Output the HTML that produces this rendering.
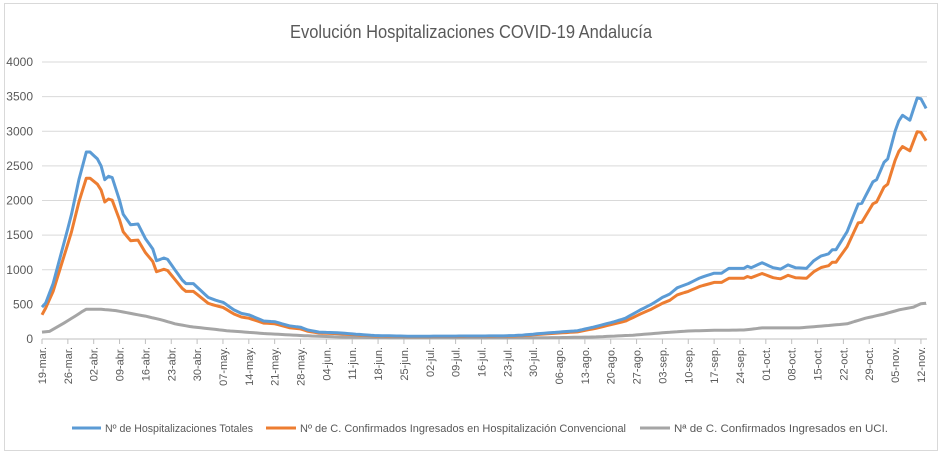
<!DOCTYPE html>
<html><head><meta charset="utf-8"><style>
body{margin:0;background:#fff;width:946px;height:455px;overflow:hidden}
svg text{font-family:"Liberation Sans",sans-serif;fill:#595959}
</style></head><body>
<svg id="s" width="946" height="455" xmlns="http://www.w3.org/2000/svg">
<rect x="0" y="0" width="946" height="455" fill="#fff"/>
<rect x="4.5" y="3.5" width="933" height="447" fill="none" stroke="#d9d9d9"/>
<text x="290" y="38" font-size="18" textLength="362" lengthAdjust="spacingAndGlyphs">Evolución Hospitalizaciones COVID-19 Andalucía</text>
<g id="grid"></g><g id="lines"></g>
<g font-size="11">
<line x1="72" y1="428" x2="101" y2="428" stroke="#5b9bd5" stroke-width="3"/>
<text x="105" y="432" textLength="148" lengthAdjust="spacingAndGlyphs">Nº de Hospitalizaciones Totales</text>
<line x1="266" y1="428" x2="296" y2="428" stroke="#ed7d31" stroke-width="3"/>
<text x="300" y="432" textLength="326" lengthAdjust="spacingAndGlyphs">Nº de C. Confirmados Ingresados en Hospitalización Convencional</text>
<line x1="640" y1="428" x2="670" y2="428" stroke="#a5a5a5" stroke-width="3"/>
<text x="674" y="432" textLength="214" lengthAdjust="spacingAndGlyphs">Nª de C. Confirmados Ingresados en UCI.</text>
</g>
</svg>
<script>
const X0=42,DX=3.693,Y0=339,YS=277/4000;
const fx=d=>X0+d*DX, fy=v=>Y0-v*YS;
let g='';
for(let v=0;v<=4000;v+=500){const y=fy(v);
 if(v>0)g+=`<line x1="42" y1="${y}" x2="927" y2="${y}" stroke="#d9d9d9"/>`;
 g+=`<text x="33" y="${y+4}" font-size="12" text-anchor="end">${v}</text>`;}
g+=`<line x1="42" y1="339" x2="927" y2="339" stroke="#bfbfbf"/>`;
const mon=[['mar',31],['abr',30],['may',31],['jun',30],['jul',31],['ago',31],['sep',30],['oct',31],['nov',30]];
let m=0,d=19;
for(let w=0;w<=34;w++){
 const x=fx(w*7);
 g+=`<line x1="${x}" y1="339" x2="${x}" y2="344" stroke="#bfbfbf"/>`;
 const lab=(d<10?'0':'')+d+'-'+mon[m][0]+'.';
 g+=`<text transform="translate(${x+4},347) rotate(-90)" font-size="11" text-anchor="end">${lab}</text>`;
 d+=7; if(d>mon[m][1]){d-=mon[m][1];m++;}
}
document.getElementById('grid').innerHTML=g;
function interp(k){const out=[];for(let i=0;i<k.length-1;i++){const [d0,v0]=k[i],[d1,v1]=k[i+1];for(let t=d0;t<d1;t++)out.push([t,v0+(v1-v0)*(t-d0)/(d1-d0)]);}out.push(k[k.length-1]);return out;}
const left=[[0,460],[1,520],[3,800],[5,1200],[8,1800],[10,2300],[12,2700],[13,2700],[15,2600],[16,2500],[17,2300],[18,2350],[19,2330],[21,2000],[22,1800],[24,1650],[26,1660],[28,1450],[30,1300],[31,1130],[33,1170],[34,1150],[36,1000],[38,850],[39,800],[41,800],[43,700],[45,600],[47,560],[49,530],[52,420],[54,370],[56,350],[60,260],[63,250],[67,190],[70,170],[72,130],[75,100],[80,90],[85,70],[90,50],[100,40],[125,45],[130,55],[135,80],[140,100],[145,120],[150,180],[155,250],[158,300],[162,420],[165,500],[168,600],[170,650],[172,740],[175,800],[178,880]];
const right=[[182,950],[184,950],[186,1020],[190,1020],[191,1050],[192,1030],[195,1100],[198,1030],[200,1010],[202,1070],[204,1030],[207,1020],[209,1130],[211,1200],[213,1230],[214,1290],[215,1290],[218,1550],[221,1950],[222,1960],[225,2270],[226,2300],[228,2550],[229,2600],[231,3000],[232,3150],[233,3230],[235,3160],[237,3480],[238,3470],[239.4,3330]];
const bk=left.concat(right);
const ok=bk.map(([d,v])=>{let f=0.86; if(d<1)f=0.76; if(v<300)f=Math.max(0.86,1-30/Math.max(v,1)); return [d,v*f];});
const gk=[[0,100],[2,110],[5,200],[9,330],[11,400],[12,430],[16,430],[20,410],[24,370],[28,330],[32,280],[36,220],[40,180],[45,150],[50,120],[55,100],[60,80],[70,50],[80,30],[90,20],[120,15],[140,20],[150,30],[160,55],[168,90],[175,115],[182,125],[190,130],[195,160],[205,160],[212,190],[218,220],[223,300],[228,360],[232,420],[236,460],[238,510],[239.4,515]];
function path(k){const p=interp(k);return p.map((q,i)=>(i?'L':'M')+fx(q[0]).toFixed(1)+','+fy(q[1]).toFixed(1)).join('');}
document.getElementById('lines').innerHTML=
`<path d="${path(gk)}" fill="none" stroke="#a5a5a5" stroke-width="3" stroke-linejoin="round"/>`+
`<path d="${path(ok)}" fill="none" stroke="#ed7d31" stroke-width="3" stroke-linejoin="round"/>`+
`<path d="${path(bk)}" fill="none" stroke="#5b9bd5" stroke-width="3" stroke-linejoin="round"/>`;
</script>
</body></html>
